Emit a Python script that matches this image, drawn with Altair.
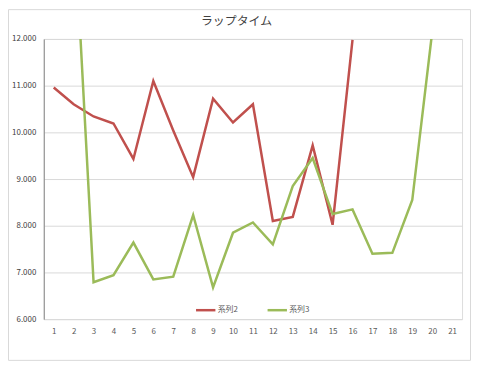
import altair as alt
import pandas as pd

laps = list(range(1, 22))
series2 = [10.96, 10.60, 10.34, 10.19, 9.43, 11.10, 10.04, 9.04, 10.72, 10.21, 10.60,
           8.10, 8.19, 9.72, 8.02, 11.98, None, None, None, None, None]
series3 = [None, 14.75, 6.79, 6.94, 7.64, 6.85, 6.91, 8.23, 6.68, 7.85, 8.07,
           7.60, 8.85, 9.45, 8.25, 8.35, 7.40, 7.42, 8.55, 12.15, None]
names = ["系列2", "系列3"]
colors = ["#c0504d", "#9bbb59"]
title_text = "ラップタイム"

rows = []
for name, vals in zip(names, [series2, series3]):
    for lap, v in zip(laps, vals):
        if v is not None:
            rows.append({"lap": lap, "time": v, "series": name})
df = pd.DataFrame(rows)

FONT = "Noto Sans CJK JP"

border = alt.Chart(alt.Data(values=[{}])).mark_rect(
    fill=None, stroke="#d9d9d9", strokeWidth=1, clip=False
).encode(
    x=alt.value(-35.5), x2=alt.value(429.5), y=alt.value(-29.5), y2=alt.value(323.5)
)

title = alt.Chart(alt.Data(values=[{"t": title_text}])).mark_text(
    font=FONT, fontSize=12, color="#404040", baseline="alphabetic", align="center", clip=False
).encode(
    text="t:N", x=alt.value(194), y=alt.value(-14)
)

lines = alt.Chart(df).mark_line(strokeWidth=2.5, clip=True).encode(
    x=alt.X("lap:O", scale=alt.Scale(type="point", domain=laps, padding=0.5),
            axis=alt.Axis(title=None, labelAngle=0, ticks=False, domain=False, grid=False,
                          labelFont=FONT, labelFontSize=8, labelColor="#595959",
                          labelPadding=8)),
    y=alt.Y("time:Q", scale=alt.Scale(domain=[6, 12], nice=False, zero=False),
            axis=alt.Axis(title=None, values=[6, 7, 8, 9, 10, 11, 12], format=".3f",
                          ticks=False, domain=True, domainColor="#868686",
                          gridColor="#d9d9d9", labelFont=FONT, labelFontSize=8,
                          labelColor="#404040", labelPadding=8)),
    color=alt.Color("series:N", scale=alt.Scale(domain=names, range=colors),
                    legend=alt.Legend(title=None, orient="none", legendX=152, legendY=262,
                                      direction="horizontal", symbolType="stroke",
                                      symbolStrokeWidth=2.5, symbolSize=380,
                                      labelFont=FONT, labelFontSize=8, labelColor="#595959",
                                      labelOffset=1, columnPadding=24)),
    detail="series:N",
)

chart = alt.layer(border, lines, title).properties(
    width=421, height=282,
    autosize=alt.AutoSizeParams(type="none"),
    padding={"left": 36, "top": 30, "right": 10, "bottom": 42},
).configure_view(stroke=None).configure(background="white")

chart.save("out.html", embed_options={"renderer": "svg", "actions": False})
